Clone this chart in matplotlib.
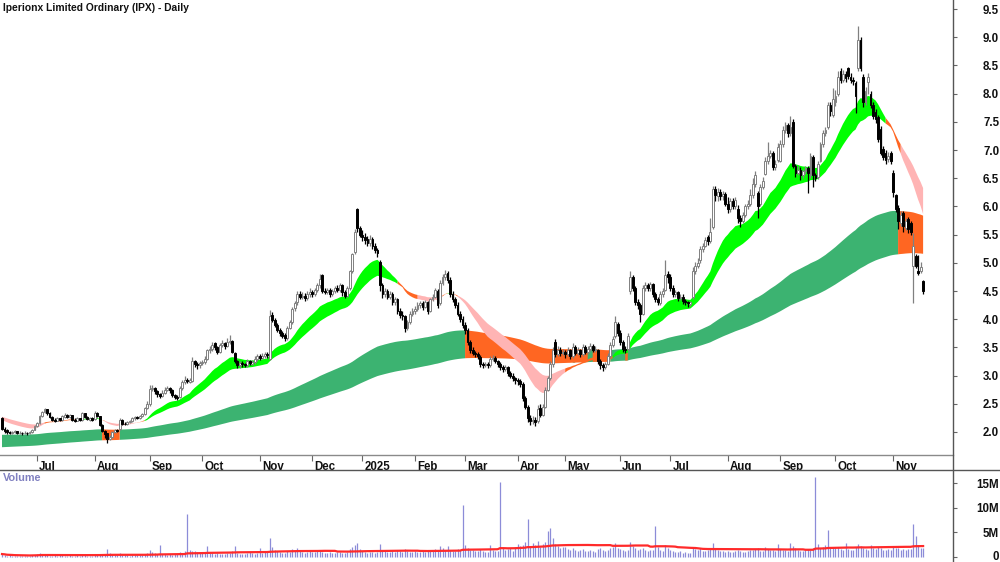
import numpy as np
import pandas as pd
import matplotlib
matplotlib.use("Agg")
import matplotlib.pyplot as plt
from matplotlib.transforms import ScaledTranslation
from matplotlib.lines import Line2D
from matplotlib import font_manager

# ---------------- data ----------------
month_labels = ['', 'Jul', 'Aug', 'Sep', 'Oct', 'Nov', 'Dec', '2025', 'Feb', 'Mar',
                'Apr', 'May', 'Jun', 'Jul', 'Aug', 'Sep', 'Oct', 'Nov']
month_counts = [14, 23, 22, 21, 23, 21, 20, 21, 20, 21, 19, 22, 20, 23, 21, 22, 23, 13]

opens = [
    2.25, 2.06, 2.03, 2.00, 1.99, 2.00, 2.01, 1.99, 1.99, 1.98, 1.99, 1.98, 2.00, 2.04,
    2.10, 2.16, 2.28, 2.35, 2.40, 2.33, 2.27, 2.22, 2.20, 2.24, 2.21, 2.27, 2.31, 2.26, 2.30, 2.22, 2.20, 2.24, 2.22, 2.33, 2.26, 2.22, 2.25,
    2.23, 2.33, 2.28, 2.12, 2.02, 1.98, 1.88, 1.92, 2.00, 2.04, 2.05, 2.22, 2.15, 2.14, 2.18, 2.20, 2.24, 2.27, 2.25, 2.28, 2.32, 2.42,
    2.50, 2.76, 2.78, 2.72, 2.68, 2.64, 2.70, 2.75, 2.78, 2.74, 2.65, 2.62, 2.62, 2.78, 2.88, 2.92, 2.88, 2.90, 3.25, 3.20, 3.18,
    3.22, 3.24, 3.30, 3.45, 3.48, 3.58, 3.50, 3.42, 3.55, 3.58, 3.52, 3.60, 3.62, 3.40, 3.25, 3.18, 3.22, 3.20, 3.18, 3.25, 3.20, 3.24, 3.30,
    3.34, 3.32, 3.35, 3.38, 3.30, 4.08, 3.98, 3.90, 3.80, 3.75, 3.72, 3.66, 3.85, 3.95, 4.20, 4.30, 4.45, 4.40, 4.42, 4.38, 4.45,
    4.48, 4.45, 4.52, 4.60, 4.78, 4.50, 4.48, 4.52, 4.45, 4.50, 4.55, 4.52, 4.60, 4.48, 4.42, 4.55, 4.85, 5.20, 5.95, 5.62,
    5.50, 5.45, 5.42, 5.35, 5.42, 5.30, 5.22, 5.02, 4.60, 4.45, 4.50, 4.40, 4.45, 4.30, 4.35, 4.15, 4.08, 4.05, 3.85, 3.95, 4.10,
    4.15, 4.18, 4.25, 4.28, 4.22, 4.30, 4.15, 4.35, 4.40, 4.50, 4.28, 4.65, 4.75, 4.82, 4.70, 4.45, 4.35, 4.25, 4.10, 4.00,
    3.90, 3.80, 3.60, 3.45, 3.40, 3.38, 3.33, 3.20, 3.18, 3.20, 3.18, 3.30, 3.32, 3.25, 3.20, 3.15, 3.12, 3.15, 3.05, 3.00, 2.95,
    2.92, 2.90, 2.85, 2.60, 2.45, 2.25, 2.20, 2.22, 2.20, 2.42, 2.30, 2.45, 2.75, 2.95, 3.20, 3.60, 3.38, 3.45, 3.40,
    3.42, 3.38, 3.45, 3.35, 3.50, 3.40, 3.45, 3.38, 3.50, 3.42, 3.48, 3.52, 3.45, 3.45, 3.25, 3.18, 3.15, 3.20, 3.35, 3.55, 3.70, 3.92,
    3.75, 3.60, 3.48, 3.47, 4.50, 4.75, 4.55, 4.30, 4.25, 4.10, 4.55, 4.60, 4.55, 4.62, 4.45, 4.35, 4.28, 4.45, 4.52, 4.80,
    4.75, 4.55, 4.45, 4.48, 4.38, 4.40, 4.32, 4.30, 4.27, 4.40, 4.85, 4.95, 5.05, 5.25, 5.30, 5.45, 5.38, 5.63, 6.30, 6.18, 6.25, 6.18, 6.22,
    6.05, 5.95, 6.10, 6.00, 5.95, 5.80, 5.75, 5.85, 6.00, 6.05, 6.20, 6.40, 6.24, 6.05, 6.35, 6.58, 6.80, 6.90, 6.95, 6.70, 6.82,
    6.80, 7.10, 7.35, 7.45, 7.30, 7.50, 6.72, 6.60, 6.65, 6.55, 6.62, 6.68, 6.55, 6.88, 6.55, 6.52, 6.80, 7.10, 7.30, 7.40, 7.80, 7.62,
    7.85, 8.00, 8.40, 8.25, 8.35, 8.45, 8.30, 8.25, 8.18, 8.45, 8.95, 8.30, 7.85, 8.20, 8.00, 7.80, 7.68, 7.58, 7.38, 7.02, 6.95, 6.84, 6.95,
    6.60, 6.20, 5.98, 5.70, 5.88, 5.62, 5.78, 5.70, 4.95, 5.12, 4.86, 4.86, 4.68,
]
highs = [
    2.27, 2.08, 2.05, 2.02, 2.02, 2.03, 2.02, 2.01, 2.00, 2.01, 2.00, 2.02, 2.06, 2.12,
    2.18, 2.30, 2.38, 2.43, 2.41, 2.35, 2.29, 2.24, 2.26, 2.25, 2.30, 2.33, 2.32, 2.32, 2.31, 2.24, 2.26, 2.25, 2.36, 2.34, 2.28, 2.27, 2.26,
    2.37, 2.35, 2.29, 2.14, 2.04, 1.99, 1.95, 2.02, 2.06, 2.06, 2.25, 2.23, 2.17, 2.20, 2.22, 2.26, 2.28, 2.29, 2.30, 2.34, 2.45, 2.55,
    2.83, 2.84, 2.80, 2.74, 2.70, 2.74, 2.79, 2.82, 2.80, 2.76, 2.68, 2.65, 2.82, 2.92, 3.00, 2.95, 2.96, 3.33, 3.28, 3.24, 3.26,
    3.28, 3.34, 3.48, 3.52, 3.60, 3.60, 3.52, 3.58, 3.64, 3.60, 3.66, 3.72, 3.64, 3.42, 3.28, 3.25, 3.25, 3.23, 3.30, 3.28, 3.27, 3.34, 3.38,
    3.38, 3.40, 3.42, 3.42, 4.16, 4.12, 4.02, 3.93, 3.84, 3.79, 3.76, 3.88, 3.99, 4.22, 4.33, 4.50, 4.50, 4.48, 4.46, 4.50, 4.55,
    4.52, 4.56, 4.64, 4.80, 4.80, 4.55, 4.56, 4.56, 4.54, 4.58, 4.60, 4.64, 4.62, 4.52, 4.58, 4.88, 5.18, 5.60, 5.98, 5.66,
    5.58, 5.52, 5.48, 5.50, 5.45, 5.35, 5.26, 5.05, 4.64, 4.55, 4.54, 4.50, 4.48, 4.40, 4.38, 4.20, 4.14, 4.08, 3.98, 4.14, 4.20,
    4.24, 4.30, 4.33, 4.32, 4.34, 4.32, 4.38, 4.45, 4.56, 4.54, 4.70, 4.80, 4.88, 4.86, 4.74, 4.50, 4.40, 4.30, 4.14, 4.05,
    3.95, 3.84, 3.64, 3.50, 3.44, 3.41, 3.36, 3.24, 3.24, 3.24, 3.34, 3.36, 3.34, 3.28, 3.24, 3.18, 3.18, 3.17, 3.08, 3.04, 2.98,
    2.96, 2.94, 2.88, 2.64, 2.48, 2.30, 2.28, 2.26, 2.48, 2.50, 2.50, 2.80, 3.00, 3.25, 3.50, 3.65, 3.52, 3.50, 3.48,
    3.46, 3.50, 3.48, 3.58, 3.54, 3.50, 3.48, 3.56, 3.54, 3.52, 3.58, 3.56, 3.52, 3.48, 3.30, 3.22, 3.24, 3.40, 3.60, 3.70, 4.05, 3.95,
    3.80, 3.64, 3.52, 3.75, 4.85, 4.78, 4.58, 4.35, 4.28, 4.60, 4.66, 4.64, 4.66, 4.64, 4.48, 4.40, 4.50, 4.55, 5.05, 4.85,
    4.80, 4.60, 4.52, 4.50, 4.44, 4.44, 4.36, 4.33, 4.33, 4.92, 5.02, 5.08, 5.30, 5.36, 5.45, 5.50, 5.80, 6.36, 6.36, 6.32, 6.30, 6.28, 6.25,
    6.17, 6.15, 6.15, 6.17, 6.02, 5.85, 5.90, 6.05, 6.12, 6.30, 6.50, 6.62, 6.28, 6.40, 6.52, 6.88, 7.14, 7.00, 6.98, 6.82, 7.12,
    7.18, 7.42, 7.50, 7.48, 7.60, 7.55, 6.76, 6.72, 6.70, 6.66, 6.72, 6.72, 6.95, 6.92, 6.60, 6.80, 7.14, 7.36, 7.40, 7.85, 7.86, 8.10,
    8.06, 8.40, 8.45, 8.42, 8.40, 8.48, 8.36, 8.30, 8.22, 9.20, 9.00, 8.35, 8.12, 8.36, 8.05, 7.85, 7.72, 7.62, 7.42, 7.08, 7.00, 6.97, 6.98,
    6.64, 6.22, 6.02, 5.92, 5.92, 5.80, 5.82, 5.75, 5.53, 5.15, 5.13, 5.02, 4.70,
]
lows = [
    2.04, 1.99, 1.97, 1.96, 1.97, 1.98, 1.97, 1.96, 1.95, 1.96, 1.95, 1.96, 1.99, 2.03,
    2.08, 2.14, 2.26, 2.33, 2.31, 2.25, 2.20, 2.18, 2.19, 2.19, 2.20, 2.25, 2.25, 2.24, 2.20, 2.18, 2.19, 2.19, 2.20, 2.24, 2.21, 2.20, 2.20,
    2.21, 2.26, 2.10, 2.00, 1.90, 1.80, 1.85, 1.90, 1.98, 2.00, 2.03, 2.13, 2.12, 2.12, 2.16, 2.18, 2.22, 2.23, 2.23, 2.26, 2.30, 2.40,
    2.46, 2.72, 2.68, 2.62, 2.60, 2.62, 2.68, 2.72, 2.70, 2.62, 2.58, 2.56, 2.60, 2.75, 2.85, 2.86, 2.86, 2.88, 3.15, 3.12, 3.14,
    3.18, 3.20, 3.28, 3.40, 3.44, 3.46, 3.38, 3.40, 3.50, 3.48, 3.50, 3.56, 3.40, 3.22, 3.14, 3.14, 3.16, 3.15, 3.15, 3.18, 3.18, 3.20, 3.26,
    3.28, 3.29, 3.32, 3.32, 3.28, 3.95, 3.87, 3.77, 3.70, 3.66, 3.62, 3.64, 3.83, 3.92, 4.15, 4.26, 4.36, 4.36, 4.33, 4.34, 4.40,
    4.40, 4.42, 4.48, 4.56, 4.46, 4.44, 4.45, 4.40, 4.42, 4.47, 4.48, 4.48, 4.42, 4.37, 4.40, 4.52, 4.82, 5.15, 5.55, 5.45,
    5.38, 5.34, 5.30, 5.30, 5.25, 5.17, 5.10, 4.50, 4.38, 4.40, 4.35, 4.36, 4.25, 4.26, 4.10, 4.02, 3.98, 3.78, 3.80, 3.92, 4.06,
    4.10, 4.14, 4.20, 4.17, 4.20, 4.10, 4.13, 4.32, 4.37, 4.20, 4.25, 4.60, 4.70, 4.65, 4.40, 4.30, 4.20, 4.05, 3.95, 3.85,
    3.74, 3.55, 3.40, 3.36, 3.33, 3.30, 3.15, 3.13, 3.15, 3.13, 3.16, 3.26, 3.22, 3.15, 3.10, 3.07, 3.09, 3.00, 2.95, 2.90, 2.85,
    2.84, 2.80, 2.55, 2.40, 2.18, 2.12, 2.15, 2.10, 2.16, 2.26, 2.28, 2.42, 2.72, 2.92, 3.15, 3.33, 3.35, 3.34, 3.36,
    3.32, 3.34, 3.30, 3.32, 3.36, 3.36, 3.33, 3.35, 3.38, 3.38, 3.44, 3.42, 3.42, 3.20, 3.12, 3.08, 3.12, 3.18, 3.32, 3.50, 3.66, 3.70,
    3.55, 3.42, 3.40, 3.44, 4.45, 4.50, 4.25, 4.18, 3.95, 4.08, 4.50, 4.50, 4.50, 4.40, 4.30, 4.25, 4.25, 4.40, 4.50, 4.65,
    4.50, 4.40, 4.40, 4.33, 4.34, 4.27, 4.25, 4.22, 4.24, 4.35, 4.80, 4.90, 5.00, 5.20, 5.28, 5.32, 5.35, 5.60, 6.10, 6.10, 6.12, 6.12, 6.00,
    5.88, 5.90, 5.95, 5.95, 5.70, 5.63, 5.70, 5.82, 5.95, 6.00, 6.15, 6.35, 5.80, 6.00, 6.30, 6.55, 6.75, 6.85, 6.64, 6.65, 6.78,
    6.78, 7.05, 7.30, 7.23, 7.25, 6.68, 6.52, 6.55, 6.47, 6.50, 6.58, 6.24, 6.50, 6.35, 6.45, 6.48, 6.78, 7.05, 7.25, 7.38, 7.60, 7.58,
    7.78, 7.96, 8.18, 8.20, 8.20, 8.26, 8.18, 8.15, 7.65, 8.40, 8.40, 7.76, 7.80, 8.00, 7.74, 7.55, 7.48, 7.15, 6.92, 6.82, 6.76, 6.78, 6.75,
    6.17, 5.90, 5.60, 5.66, 5.55, 5.58, 5.52, 5.50, 4.28, 4.90, 4.78, 4.82, 4.45,
]
closes = [
    2.06, 2.02, 2.00, 1.99, 2.00, 2.01, 1.99, 1.99, 1.98, 1.99, 1.98, 2.00, 2.04, 2.10,
    2.16, 2.28, 2.36, 2.40, 2.33, 2.27, 2.22, 2.20, 2.24, 2.21, 2.28, 2.31, 2.27, 2.30, 2.22, 2.20, 2.24, 2.21, 2.33, 2.26, 2.23, 2.25, 2.22,
    2.33, 2.28, 2.12, 2.02, 1.96, 1.88, 1.92, 2.00, 2.03, 2.02, 2.22, 2.15, 2.14, 2.18, 2.20, 2.24, 2.26, 2.25, 2.28, 2.32, 2.42, 2.50,
    2.76, 2.78, 2.72, 2.68, 2.64, 2.70, 2.75, 2.78, 2.74, 2.65, 2.62, 2.60, 2.78, 2.88, 2.92, 2.90, 2.93, 3.25, 3.20, 3.18, 3.22,
    3.24, 3.30, 3.45, 3.48, 3.55, 3.50, 3.42, 3.55, 3.58, 3.52, 3.60, 3.62, 3.42, 3.25, 3.18, 3.22, 3.20, 3.18, 3.25, 3.22, 3.24, 3.30, 3.34,
    3.32, 3.35, 3.38, 3.36, 4.05, 3.98, 3.90, 3.80, 3.75, 3.70, 3.66, 3.85, 3.95, 4.18, 4.28, 4.45, 4.40, 4.42, 4.38, 4.45, 4.48,
    4.45, 4.52, 4.60, 4.72, 4.50, 4.48, 4.52, 4.45, 4.50, 4.55, 4.52, 4.60, 4.48, 4.42, 4.55, 4.85, 5.15, 5.55, 5.62, 5.50,
    5.45, 5.40, 5.35, 5.42, 5.30, 5.22, 5.18, 4.60, 4.45, 4.50, 4.40, 4.45, 4.30, 4.35, 4.15, 4.08, 4.05, 3.85, 3.95, 4.10, 4.15,
    4.18, 4.25, 4.28, 4.22, 4.30, 4.15, 4.35, 4.40, 4.52, 4.25, 4.65, 4.75, 4.80, 4.70, 4.45, 4.35, 4.25, 4.10, 4.00, 3.90,
    3.80, 3.60, 3.45, 3.40, 3.38, 3.35, 3.20, 3.18, 3.20, 3.18, 3.30, 3.32, 3.25, 3.20, 3.15, 3.12, 3.15, 3.05, 3.00, 2.95, 2.92,
    2.90, 2.85, 2.60, 2.45, 2.25, 2.20, 2.22, 2.18, 2.40, 2.30, 2.45, 2.75, 2.95, 3.20, 3.45, 3.38, 3.45, 3.40, 3.42,
    3.38, 3.45, 3.35, 3.50, 3.40, 3.45, 3.38, 3.50, 3.42, 3.48, 3.52, 3.45, 3.48, 3.25, 3.18, 3.15, 3.20, 3.35, 3.55, 3.65, 3.95, 3.75,
    3.60, 3.48, 3.45, 3.70, 4.75, 4.55, 4.30, 4.25, 4.10, 4.55, 4.60, 4.55, 4.62, 4.45, 4.35, 4.30, 4.45, 4.50, 4.78, 4.75,
    4.55, 4.45, 4.48, 4.38, 4.40, 4.32, 4.30, 4.28, 4.30, 4.85, 4.95, 5.00, 5.25, 5.30, 5.40, 5.38, 5.55, 6.30, 6.20, 6.25, 6.18, 6.22, 6.05,
    5.95, 6.10, 6.00, 6.12, 5.80, 5.75, 5.85, 6.00, 6.05, 6.20, 6.40, 6.55, 6.00, 6.35, 6.45, 6.80, 6.90, 6.95, 6.70, 6.75, 7.05,
    7.10, 7.35, 7.45, 7.30, 7.40, 6.72, 6.60, 6.65, 6.55, 6.62, 6.68, 6.60, 6.90, 6.55, 6.50, 6.75, 7.10, 7.30, 7.35, 7.80, 7.70, 7.90,
    7.95, 8.30, 8.25, 8.35, 8.28, 8.32, 8.25, 8.22, 7.95, 8.95, 8.45, 7.85, 8.05, 8.30, 7.80, 7.60, 7.55, 7.20, 6.95, 6.88, 6.82, 6.90, 6.80,
    6.25, 5.95, 5.75, 5.85, 5.65, 5.75, 5.60, 5.55, 5.30, 4.95, 4.82, 4.92, 4.50,
]
volume_m = [
    0.6, 0.5, 0.3, 0.4, 0.3, 0.2, 0.3, 0.2, 0.2, 0.3, 0.2, 0.3, 0.4, 0.5,
    0.6, 0.9, 0.7, 0.5, 0.4, 0.3, 0.3, 0.4, 0.3, 0.5, 0.4, 0.3, 0.3, 0.4, 0.3, 0.3, 0.4, 0.3, 0.5, 0.4, 0.3, 0.3, 0.3,
    0.5, 0.4, 0.7, 0.6, 0.5, 1.6, 0.9, 0.7, 0.5, 0.4, 0.9, 0.5, 0.4, 0.4, 0.3, 0.4, 0.5, 0.4, 0.4, 0.5, 0.6, 0.9,
    1.5, 1.0, 0.8, 0.6, 2.4, 0.7, 0.6, 0.5, 0.6, 0.5, 0.6, 0.7, 1.0, 0.9, 1.3, 8.8, 1.4, 1.2, 1.2, 1.0, 0.8,
    0.9, 1.0, 2.3, 0.9, 0.8, 0.7, 0.8, 0.6, 0.7, 0.6, 0.9, 0.8, 1.2, 2.3, 0.9, 0.6, 0.7, 0.6, 0.8, 1.0, 0.8, 0.7, 0.9,
    1.8, 0.9, 1.0, 1.2, 3.8, 2.0, 1.5, 1.2, 1.0, 0.9, 0.8, 1.2, 1.1, 1.6, 1.3, 1.9, 1.2, 1.0, 0.9, 1.1, 1.4,
    1.0, 1.1, 1.2, 1.4, 1.0, 0.9, 0.8, 1.0, 0.9, 0.8, 1.1, 1.0, 0.9, 0.8, 1.0, 1.6, 2.0, 2.4, 2.9, 1.6,
    1.2, 1.0, 0.9, 1.0, 1.1, 0.9, 1.0, 2.6, 1.5, 1.2, 1.0, 1.1, 1.3, 1.0, 1.4, 1.2, 1.0, 1.6, 1.3, 1.1, 1.0,
    1.2, 1.0, 1.1, 1.3, 1.0, 1.2, 1.4, 1.2, 1.6, 1.3, 2.3, 1.8, 1.5, 2.2, 1.4, 1.3, 1.2, 1.6, 1.5, 10.6,
    2.4, 1.8, 1.5, 1.4, 1.2, 1.3, 1.6, 1.2, 1.0, 1.1, 2.5, 1.4, 1.3, 1.2, 15.2, 2.0, 1.5, 1.6, 1.8, 1.3, 2.0,
    2.6, 2.2, 2.5, 3.0, 7.8, 2.2, 2.8, 2.4, 3.2, 2.0, 2.6, 3.0, 5.3, 5.8, 3.8, 2.6, 2.2, 1.8, 2.0,
    2.0, 1.6, 1.4, 1.8, 1.5, 1.2, 1.4, 1.6, 1.3, 1.2, 1.4, 1.2, 1.1, 1.6, 1.8, 1.4, 1.2, 1.5, 1.8, 2.0, 2.8, 1.8,
    1.6, 1.4, 1.3, 1.5, 3.0, 2.2, 1.8, 1.5, 1.6, 1.8, 1.4, 1.3, 1.5, 1.4, 6.3, 2.0, 1.4, 1.3, 2.4, 1.8,
    1.4, 1.2, 1.1, 1.0, 1.2, 0.9, 1.0, 0.8, 0.9, 2.0, 1.6, 1.4, 1.8, 1.3, 1.2, 1.5, 1.6, 2.8, 1.8, 1.4, 1.2, 1.3, 1.0,
    1.3, 1.1, 1.0, 1.2, 1.4, 1.2, 1.0, 1.1, 1.3, 1.5, 1.4, 1.6, 1.8, 1.3, 1.2, 2.1, 1.6, 1.4, 1.5, 1.3, 2.6,
    1.6, 1.4, 1.5, 1.3, 2.8, 2.2, 1.8, 1.4, 1.3, 1.2, 1.5, 1.6, 1.4, 1.8, 16.2, 2.6, 1.8, 2.0, 2.4, 5.5, 2.0, 1.8,
    1.8, 2.0, 1.6, 1.5, 2.8, 1.7, 1.5, 1.4, 2.0, 2.6, 2.2, 1.8, 1.6, 1.5, 2.4, 1.8, 1.6, 2.0, 1.8, 1.5, 1.4, 1.6, 1.5,
    2.2, 1.8, 1.9, 1.5, 1.6, 1.4, 1.7, 1.6, 6.6, 4.3, 2.2, 1.8, 1.9,
]

# indicator settings (moving-average ribbons) and their starting values
short_periods = [20, 23, 26, 29, 32, 35]
short_seeds = [2.21, 2.22, 2.23, 2.25, 2.26, 2.27]
long_periods = [150, 170, 190, 210, 230, 250]
long_seeds = [1.95, 1.91, 1.86, 1.82, 1.77, 1.73]
vol_ma_window = 60

price_ticks = [2.0, 2.5, 3.0, 3.5, 4.0, 4.5, 5.0, 5.5, 6.0, 6.5, 7.0, 7.5, 8.0, 8.5, 9.0, 9.5]
vol_ticks = [0, 5, 10, 15]
vol_tick_labels = ['0', '5M', '10M', '15M']
title = 'Iperionx Limited Ordinary (IPX) - Daily'

# ---------------- prep ----------------
N = sum(month_counts)
o = np.array(opens); h = np.array(highs); l = np.array(lows); c = np.array(closes)
v = np.array(volume_m)
assert len(o) == len(h) == len(l) == len(c) == len(v) == N, (len(o), len(h), len(l), len(c), len(v), N)
x = np.arange(N)


def ema(vals, n, seed):
    out = np.empty(len(vals))
    out[0] = seed
    a = 2.0 / (n + 1)
    for t in range(1, len(vals)):
        out[t] = out[t - 1] + a * (vals[t] - out[t - 1])
    return out


short = np.vstack([ema(c, n, s) for n, s in zip(short_periods, short_seeds)])
long_ = np.vstack([ema(c, n, s) for n, s in zip(long_periods, long_seeds)])
s_hi, s_lo = short.max(0), short.min(0)
l_hi, l_lo = long_.max(0), long_.min(0)
d = np.diff(short, axis=0)
s_bull = (d < 0).all(0)
s_bear = (d > 0).all(0)
s_mix = ~s_bull & ~s_bear
l_rise = np.concatenate([[True], (np.diff(long_, axis=1) > 0).all(0)])

names = {f.name for f in font_manager.fontManager.ttflist}
FONT = 'Liberation Sans Narrow' if 'Liberation Sans Narrow' in names else 'Liberation Sans'
NARROW = FONT == 'Liberation Sans Narrow'
plt.rcParams['font.family'] = [FONT, 'DejaVu Sans']
FS_AX = 9.5 if NARROW else 8.3
FS_TITLE = 9.0 if NARROW else 7.4
FS_VOL = 9.0 if NARROW else 7.8

W, H = 1000, 562
fig = plt.figure(figsize=(W / 100, H / 100), dpi=100)
RX = 953
ax = fig.add_axes([0, (H - 455) / H, RX / W, 455 / H])
axv = fig.add_axes([0, 0, RX / W, (H - 470) / H])

xlim = (-0.8, (RX - 2) / 2.503)
ax.set_xlim(*xlim)
axv.set_xlim(*xlim)

GREEN_S = '#00FF00'
GREEN_L = '#3CB371'
ORANGE = '#FF6622'
PINK = '#FFB4B4'


def band(axis, lo, hi, mask, color):
    m = mask.copy()
    m[1:] |= mask[:-1]
    axis.fill_between(x, lo, hi, where=m, color=color, lw=0, zorder=1, interpolate=False)


band(ax, l_lo, l_hi, l_rise, GREEN_L)
band(ax, l_lo, l_hi, ~l_rise, ORANGE)
band(ax, s_lo, s_hi, s_bear, PINK)
band(ax, s_lo, s_hi, s_mix, ORANGE)
band(ax, s_lo, s_hi, s_bull, GREEN_S)

up = c >= o
wick_cols = np.where(up, '#808080', '#000000')
ax.vlines(x, l, h, colors=wick_cols, lw=0.9, zorder=3)
ax.bar(x[up], (c - o)[up], bottom=o[up], width=0.75, facecolor='white',
       edgecolor='#808080', linewidth=0.7, zorder=4)
ax.bar(x[~up], (o - c)[~up], bottom=c[~up], width=0.75, facecolor='black',
       edgecolor='black', linewidth=0.7, zorder=4)

ax.set_ylim(1.592, 9.66)
ax.yaxis.tick_right()
ax.set_yticks(price_ticks)
ax.set_yticklabels([f'{t:.1f}' for t in price_ticks])
PAD = (998 - RX - 3) * 0.72
ax.tick_params(axis='y', direction='out', length=3, width=0.8, color='#666666', pad=PAD,
               labelsize=FS_AX, labelcolor='#111111')
for lab in ax.get_yticklabels():
    lab.set_horizontalalignment('right')
    lab.set_fontweight('bold')

starts = np.cumsum([0] + month_counts[:-1])
ax.set_xticks(starts[1:])
ax.set_xticklabels(month_labels[1:])
ax.tick_params(axis='x', direction='out', length=4, width=0.8, color='#666666', pad=0.5,
               labelsize=FS_AX, labelcolor='#111111')
shift = ScaledTranslation(2 / 100, 0, fig.dpi_scale_trans)
for lab in ax.get_xticklabels():
    lab.set_horizontalalignment('left')
    lab.set_fontweight('bold')
    lab.set_transform(lab.get_transform() + shift)

for s in ['left', 'top', 'right']:
    ax.spines[s].set_visible(False)
ax.spines['bottom'].set_color('#8a8a8a')
ax.spines['bottom'].set_linewidth(1.0)

# volume panel
axv.vlines(x, 0, v, colors='#8c8cd8', lw=0.9, zorder=2)
vma = pd.Series(v).rolling(vol_ma_window, min_periods=1).mean().to_numpy()
axv.plot(x, vma, color='#FF2A2A', lw=1.6, zorder=3)
axv.set_ylim(-1.01, 17.64)
axv.yaxis.tick_right()
axv.set_yticks(vol_ticks)
axv.set_yticklabels(vol_tick_labels)
axv.tick_params(axis='y', direction='out', length=3, width=0.8, color='#666666', pad=PAD,
                labelsize=FS_AX, labelcolor='#111111')
up_shift = ScaledTranslation(0, 2 / 100, fig.dpi_scale_trans)
for lab in axv.get_yticklabels():
    lab.set_horizontalalignment('right')
    lab.set_fontweight('bold')
    if lab.get_text() == '0':
        lab.set_transform(lab.get_transform() + up_shift)
axv.set_xticks([])
for s in ['left', 'top', 'right', 'bottom']:
    axv.spines[s].set_visible(False)

# frame lines
fig.add_artist(Line2D([0, 1], [1 - 470 / H, 1 - 470 / H], transform=fig.transFigure,
                      color='#555555', lw=1.0))
fig.add_artist(Line2D([RX / W, RX / W], [0, 1], transform=fig.transFigure,
                      color='#555555', lw=1.0))

fig.text(3 / W, 1 - 8 / H, title, fontsize=FS_TITLE, fontweight='bold', va='center', ha='left',
         color='#111111')
fig.text(3 / W, 1 - 478 / H, 'Volume', fontsize=FS_VOL, fontweight='bold', va='center', ha='left',
         color='#8080C0')

fig.savefig('out.png', dpi=100)
